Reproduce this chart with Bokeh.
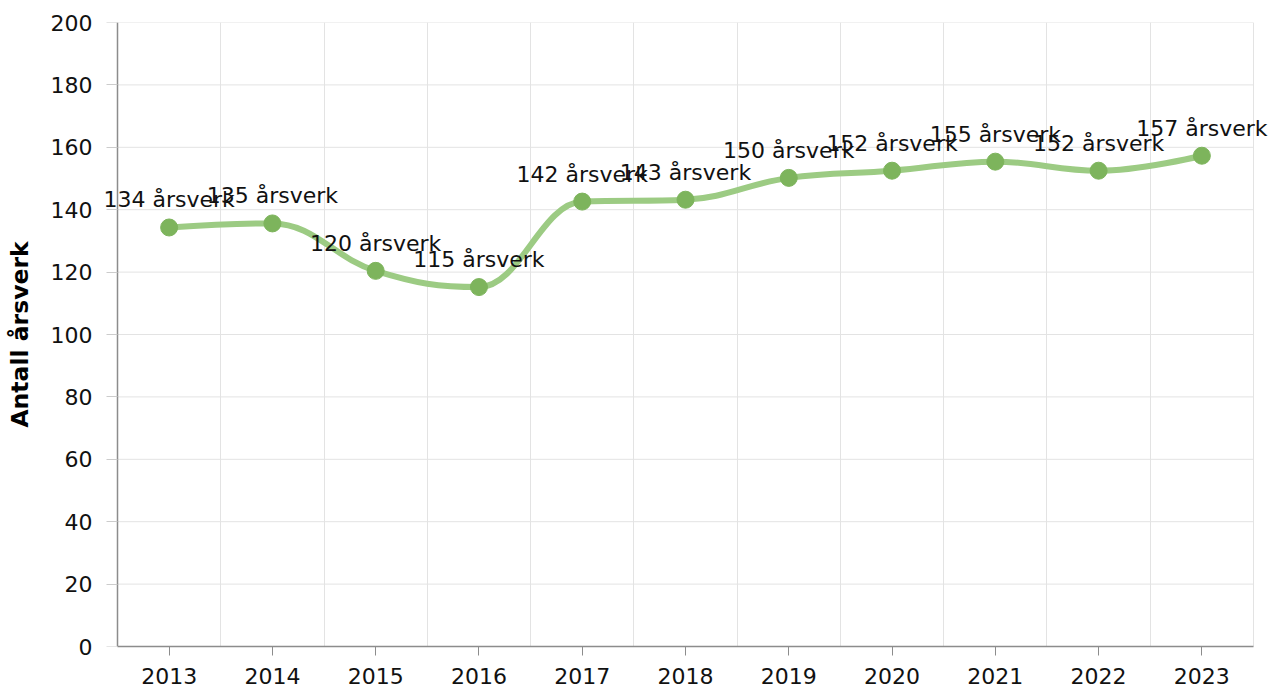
from bokeh.plotting import figure
from bokeh.models import ColumnDataSource, LabelSet, FixedTicker, Range1d, LinearAxis
from bokeh.core.properties import value
from bokeh.embed import file_html
from bokeh.resources import INLINE

# ---- data ----
years = [2013, 2014, 2015, 2016, 2017, 2018, 2019, 2020, 2021, 2022, 2023]
values = [134.3, 135.6, 120.4, 115.2, 142.6, 143.2, 150.2, 152.5, 155.4, 152.5, 157.3]
labels = ["134 årsverk", "135 årsverk", "120 årsverk", "115 årsverk", "142 årsverk",
          "143 årsverk", "150 årsverk", "152 årsverk", "155 årsverk", "152 årsverk",
          "157 årsverk"]
y_ticks = [0, 20, 40, 60, 80, 100, 120, 140, 160, 180, 200]
y_title = "Antall årsverk"

FONT = "DejaVu Sans"
LINE_COLOR = "#9ccb83"
MARKER_COLOR = "#7db45c"
GRID_COLOR = "#e3e3e3"
AXIS_COLOR = "#8c8c8c"

# layout (pixels)
W, H = 1271, 693
AXIS_LEFT_PX = 117      # where the category axis begins
AXIS_RIGHT_PX = 1253    # where the category axis ends
FRAME_LEFT_PX = 101     # frame extends a little so edge labels are not clipped
FRAME_RIGHT_PX = 1268

cat_lo, cat_hi = years[0] - 0.5, years[-1] + 0.5
px_per_unit = (AXIS_RIGHT_PX - AXIS_LEFT_PX) / (cat_hi - cat_lo)
x_start = cat_lo - (AXIS_LEFT_PX - FRAME_LEFT_PX) / px_per_unit
x_end = cat_hi + (FRAME_RIGHT_PX - AXIS_RIGHT_PX) / px_per_unit


def spline_controls(xs, ys, smoothing=1.5):
    """Highcharts-style spline control points for each point."""
    n = len(xs)
    left = [None] * n
    right = [None] * n
    denom = smoothing + 1
    for i in range(1, n - 1):
        lx, ly = xs[i - 1], ys[i - 1]
        nx, ny = xs[i + 1], ys[i + 1]
        px, py = xs[i], ys[i]
        lcx = (smoothing * px + lx) / denom
        lcy = (smoothing * py + ly) / denom
        rcx = (smoothing * px + nx) / denom
        rcy = (smoothing * py + ny) / denom
        if rcx != lcx:
            corr = ((rcy - lcy) * (rcx - px)) / (rcx - lcx) + py - rcy
            lcy += corr
            rcy += corr
        if lcy > ly and lcy > py:
            lcy = max(ly, py)
            rcy = 2 * py - lcy
        elif lcy < ly and lcy < py:
            lcy = min(ly, py)
            rcy = 2 * py - lcy
        if rcy > ny and rcy > py:
            rcy = max(ny, py)
            lcy = 2 * py - rcy
        elif rcy < ny and rcy < py:
            rcy = min(ny, py)
            lcy = 2 * py - rcy
        left[i] = (lcx, lcy)
        right[i] = (rcx, rcy)
    seg = dict(x0=[], y0=[], x1=[], y1=[], cx0=[], cy0=[], cx1=[], cy1=[])
    for i in range(n - 1):
        c0 = right[i] if right[i] is not None else (xs[i], ys[i])
        c1 = left[i + 1] if left[i + 1] is not None else (xs[i + 1], ys[i + 1])
        seg["x0"].append(xs[i]); seg["y0"].append(ys[i])
        seg["x1"].append(xs[i + 1]); seg["y1"].append(ys[i + 1])
        seg["cx0"].append(c0[0]); seg["cy0"].append(c0[1])
        seg["cx1"].append(c1[0]); seg["cy1"].append(c1[1])
    return seg


p = figure(width=W, height=H, output_backend="svg", toolbar_location=None,
           x_range=Range1d(x_start, x_end),
           y_range=Range1d(y_ticks[0], y_ticks[-1]),
           min_border_left=FRAME_LEFT_PX, min_border_right=W - FRAME_RIGHT_PX,
           min_border_top=22, min_border_bottom=47)
p.outline_line_color = None
p.background_fill_color = "white"
p.border_fill_color = "white"

# vertical grid at category boundaries
p.xgrid.ticker = FixedTicker(ticks=[y - 0.5 for y in years] + [years[-1] + 0.5])
p.xgrid.grid_line_color = GRID_COLOR
p.xgrid.grid_line_width = 1
# horizontal grid limited to the category span
p.ygrid.grid_line_color = None
p.segment(x0=[cat_lo] * len(y_ticks), x1=[cat_hi] * len(y_ticks), y0=y_ticks, y1=y_ticks,
          line_color=GRID_COLOR, line_width=1, level="underlay")

# x axis
xa = p.xaxis[0]
xa.ticker = FixedTicker(ticks=years)
xa.bounds = (cat_lo, cat_hi)
xa.axis_line_color = AXIS_COLOR
xa.axis_line_width = 1.5
xa.major_tick_line_color = AXIS_COLOR
xa.major_tick_out = 9
xa.major_tick_in = 0
xa.minor_tick_line_color = None
xa.major_label_text_font = FONT
xa.major_label_text_font_size = "22px"
xa.major_label_text_color = "#111111"
xa.major_label_standoff = 12

# y axis: labels and title at the panel edge
ya = p.yaxis[0]
ya.ticker = FixedTicker(ticks=y_ticks)
ya.axis_line_color = None
ya.major_tick_line_color = None
ya.major_tick_out = 0
ya.major_tick_in = 0
ya.minor_tick_line_color = None
ya.major_label_text_font = FONT
ya.major_label_text_font_size = "22px"
ya.major_label_text_color = "#111111"
ya.major_label_standoff = 9
ya.axis_label = y_title
ya.axis_label_text_font = FONT
ya.axis_label_text_font_size = "23.5px"
ya.axis_label_text_font_style = "bold"
ya.axis_label_text_color = "#000000"
ya.axis_label_standoff = 14

# y axis line and ticks at the start of the categories
yline = LinearAxis(fixed_location=cat_lo, ticker=FixedTicker(ticks=y_ticks),
                   axis_line_color=AXIS_COLOR, axis_line_width=1.5,
                   major_tick_line_color="#cccccc", major_tick_out=11, major_tick_in=0,
                   minor_tick_line_color=None, major_label_text_color=None,
                   major_label_text_font_size="1px")
p.add_layout(yline, "left")

# smooth line
seg = spline_controls(years, values)
p.bezier(x0="x0", y0="y0", x1="x1", y1="y1", cx0="cx0", cy0="cy0", cx1="cx1", cy1="cy1",
         source=ColumnDataSource(seg), line_color=LINE_COLOR, line_width=6,
         line_cap="round")

src = ColumnDataSource(dict(x=years, y=values, label=labels))
p.scatter("x", "y", source=src, size=17, fill_color=MARKER_COLOR, line_color=MARKER_COLOR)

p.add_layout(LabelSet(x="x", y="y", text="label", source=src, text_align="center",
                      text_baseline="alphabetic", y_offset=20, text_font=value(FONT),
                      text_font_size=value("22px"), text_color="#111111"))

open("out.html", "w").write(file_html(p, INLINE))
